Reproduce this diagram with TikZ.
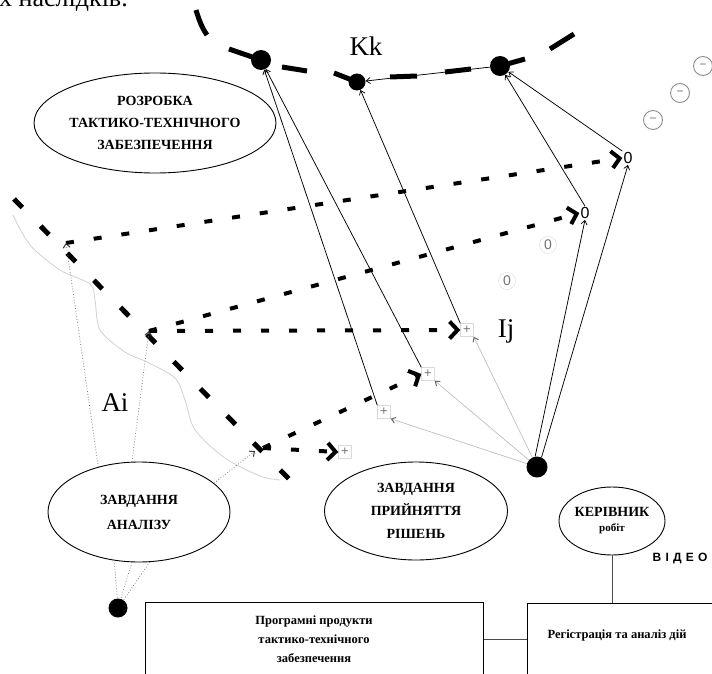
\documentclass[tikz,border=0pt]{standalone}
\usepackage{fontspec}
\setmainfont{Liberation Serif}
\newfontfamily\videofont[LetterSpace=35]{Liberation Sans}
\newfontfamily\sansfont{Liberation Sans}
\usetikzlibrary{shapes.geometric,arrows.meta}
\begin{document}
\begin{tikzpicture}[x=1pt,y=-1pt,
  ell/.style={draw, ellipse, line width=0.9pt, inner sep=0pt, align=center},
  bigdot/.style={circle, fill=black, inner sep=0pt, minimum size=#1},
  thinarr/.style={line width=0.75pt, -{Straight Barb[length=4pt,width=6pt,line width=0.75pt]}},
  faintarr/.style={draw=black!25, line width=0.7pt, -{Straight Barb[length=4pt,width=6pt,line width=1pt,color=black!60]}},
  dotarr/.style={draw=black!50, line width=0.8pt, dotted, -{Straight Barb[length=4pt,width=7pt,line width=1pt,color=black!80]}},
  dotplain/.style={draw=black!50, line width=0.8pt, dotted},
  thickdash/.style={line width=4pt, dash pattern=on 8pt off 20pt, -{Straight Barb[length=8pt,width=17pt,line width=4pt]}},
  arcdash/.style={line width=5pt},
  diagdash/.style={line width=5pt, dash pattern=on 12pt off 26pt},
  plusn/.style={draw=black!15, inner sep=1pt, minimum size=13pt, text=black!55, font=\sansfont\fontsize{13}{13}\selectfont},
  zeron/.style={inner sep=1pt, font=\sansfont\fontsize{16}{16}\selectfont},
  fzero/.style={circle, draw=black!15, inner sep=1pt, minimum size=17pt, text=black!55, font=\sansfont\fontsize{14}{14}\selectfont},
  minusc/.style={circle, draw=black!45, line width=0.9pt, inner sep=0pt, minimum size=19pt, text=black!55, font=\sansfont\fontsize{12}{12}\selectfont},
  lbl/.style={font=\fontsize{27}{27}\selectfont, inner sep=0pt},
  boxx/.style={draw, line width=0.9pt, inner sep=0pt},
  linkline/.style={line width=0.7pt, draw=black!70},
]
\useasboundingbox (0,0) rectangle (712,674);

% cut text at the very top
\node[anchor=base west, font=\fontsize{26}{26}\selectfont, inner sep=0pt] (toptext) at (-1,7) {х наслідків.};

% big dots
\node[bigdot=20pt] (A) at (261,60) {};
\node[bigdot=17pt] (B) at (357,82) {};
\node[bigdot=20pt] (C) at (500,66) {};
\node[bigdot=21pt] (D) at (537,467) {};
\node[bigdot=19pt] (E) at (118,608) {};

% dashed arc
\draw[arcdash] (196,10) .. controls (199,20) and (202,28) .. (207,35);
\draw[arcdash] (229,49) -- (A.center);
\draw[arcdash] (282,67) -- (307,71);
\draw[arcdash] (334,73) -- (B.center);
\draw[arcdash] (390,77) -- (417,76);
\draw[arcdash] (445,72) -- (471,69);
\draw[arcdash] (C.center) -- (525,59);
\draw[arcdash] (550,49) -- (574,34);

% labels
\node[lbl] (Kk) at (366,46) {Kk};
\node[lbl] (Ij) at (506,331) {Ij};
\node[lbl] (Ai) at (115,403) {Ai};

% zero / plus / minus markers
\node[zeron] (z1) at (628,158) {0};
\node[zeron] (z2) at (585,213) {0};
\node[fzero] (f1) at (548,245) {0};
\node[fzero] (f2) at (507,281) {0};
\node[plusn] (p1) at (467,330) {+};
\node[plusn] (p2) at (428,374) {+};
\node[plusn] (p3) at (384,412) {+};
\node[plusn] (p4) at (345,452) {+};
\node[minusc] (m1) at (703,66) {−};
\node[minusc] (m2) at (680,93) {−};
\node[minusc] (m3) at (653,120) {−};

% ellipses
\node[ell, minimum width=186pt, minimum height=100pt, font=\bfseries\fontsize{14}{22}\selectfont] (razr) at (155,123) {РОЗРОБКА\\ТАКТИКО-ТЕХНІЧНОГО\\ЗАБЕЗПЕЧЕННЯ};
\node[ell, minimum width=182pt, minimum height=100pt, font=\bfseries\fontsize{14}{25}\selectfont] (anal) at (139,512) {ЗАВДАННЯ\\АНАЛІЗУ};
\node[ell, minimum width=183pt, minimum height=98pt, font=\bfseries\fontsize{14}{23}\selectfont] (prin) at (416,511) {ЗАВДАННЯ\\ПРИЙНЯТТЯ\\РІШЕНЬ};
\node[ell, minimum width=106pt, minimum height=68pt, font=\bfseries\fontsize{14}{15}\selectfont] (kerv) at (612,521) {КЕРІВНИК\\{\fontsize{11}{15}\selectfont робіт}};

\node[font=\videofont\bfseries\fontsize{12}{12}\selectfont] (video) at (680,559) {ВІДЕО};

% boxes
\node[boxx, minimum width=338pt, minimum height=90pt, anchor=north west] (box1) at (145,602) {};
\node[boxx, minimum width=200pt, minimum height=90pt, anchor=north west] (box2) at (527,603) {};
\node[font=\bfseries\fontsize{12.5}{19}\selectfont, align=center] (t1) at (314,639) {Програмні продукти\\тактико-технічного\\забезпечення};
\node[font=\bfseries\fontsize{12.5}{15}\selectfont] (t2) at (617,635) {Регістрація та аналіз дій};
\draw[linkline] (box1.east |- t1) -- (box2.west |- t1);
\draw[linkline] (kerv.south) -- (box2.north -| kerv.south);

% faint wavy line beside the diagonal
\draw[black!18, line width=0.8pt] plot[smooth] coordinates {(13,215) (30,245) (60,270) (90,284) (95,300) (100,330) (125,352) (147,362) (175,378) (185,400) (195,430) (225,458) (260,476) (280,480)};

% start points of the dashed lines
\coordinate (s1) at (66,243);
\coordinate (s2) at (149,331);
\coordinate (s3) at (255,451);
\coordinate (t3) at (263,448);

% thick diagonal dashed line
\draw[diagdash] (14,199) -- (292,482);

% dashed lines to the markers
\draw[thickdash] (s1) -- (z1.west);
\draw[thickdash] (s2) -- (z2.west);
\draw[thickdash] (s2) -- (p1.west);
\draw[thickdash] (t3) -- (p2.west);
\draw[thickdash] (t3) -- (p4.west);

% dotted lines from the analysis task
\draw[dotarr] (anal.132) -- (s1);
\draw[dotarr] (anal.98) -- (s2);
\draw[dotarr] (anal.21) -- (s3);
\draw[dotplain] (anal.243) -- (E);
\draw[dotplain] (anal.262) -- (E);
\draw[dotplain] (anal.282) -- (E);

% thin black arrows
\draw[thinarr] (D.100) -- (z2.south);
\draw[thinarr] (D.65) -- (z1.south);
\draw[thinarr] (z2.north) -- (C);
\draw[thinarr] (z1.north west) -- (C);
\draw[thinarr] (C) -- (B);
\draw[thinarr] (p1.north west) -- (B);
\draw[thinarr] (p2.north west) -- (A);
\draw[thinarr] (p3.north west) -- (A);

% faint arrows from D
\draw[faintarr] (D) -- (p1.south east);
\draw[faintarr] (D) -- (p2.south east);
\draw[faintarr] (D) -- (p3.south east);
\end{tikzpicture}
\end{document}
